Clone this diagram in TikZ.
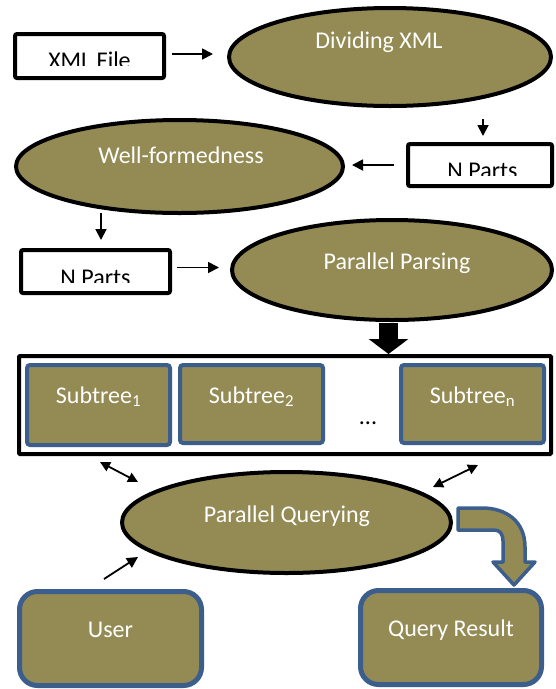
\documentclass[tikz,border=0pt]{standalone}
\usepackage{fontspec}
\setmainfont{Carlito}
\usetikzlibrary{shapes.geometric,arrows.meta}
\definecolor{olivefill}{HTML}{948A54}
\definecolor{oblue}{HTML}{3B5E8C}
\begin{document}
\begin{tikzpicture}[x=1pt,y=-1pt,
  font=\fontsize{24}{28}\selectfont,
  ell/.style={ellipse, draw=black, line width=4pt, fill=olivefill, inner sep=0pt},
  wbox/.style={rectangle, draw=black, line width=4pt, fill=white, rounded corners=2pt, inner sep=0pt},
  sbox/.style={rectangle, draw=oblue, line width=4pt, fill=olivefill, rounded corners=3pt, inner sep=0pt},
  rbox/.style={rectangle, draw=oblue, line width=5pt, fill=olivefill, rounded corners=18pt, inner sep=0pt},
  wtxt/.style={text=white, inner sep=0pt, anchor=base},
  btxt/.style={text=black, inner sep=0pt, anchor=base},
  arr/.style={line width=1.8pt, -{Triangle[length=11pt,width=11pt]}},
  darr/.style={line width=1.8pt, {Triangle[length=10pt,width=10pt]}-{Triangle[length=10pt,width=10pt]}},
  bigarr/.style={line width=19pt, -{Triangle[length=15pt,width=39pt]}},
  bent/.style={draw=oblue, line width=3.5pt, fill=olivefill, line join=round}
]
\useasboundingbox (0,0) rectangle (555,689);

% top row
\node[wbox, minimum width=149pt, minimum height=44pt] (xml) at (89.5,56) {};
\begin{scope}
  \clip (13,32) rectangle (166,65);
  \node[btxt] (xmlt) at (89.5,68) {XML File};
\end{scope}
\node[ell, minimum width=322pt, minimum height=98pt] (div) at (390,57) {};
\node[wtxt] (divt) at (379,48) {Dividing XML};

% second row
\node[wbox, minimum width=144pt, minimum height=42pt] (np1) at (480,165) {};
\begin{scope}
  \clip (406,142) rectangle (554,175);
  \node[btxt] (np1t) at (482.5,178.5) {N Parts};
\end{scope}
\node[ell, minimum width=327pt, minimum height=93pt] (well) at (179.5,166.5) {};
\node[wtxt] (wellt) at (181,163) {Well-formedness};

% third row
\node[wbox, minimum width=149pt, minimum height=43pt] (np2) at (95.5,271.5) {};
\begin{scope}
  \clip (19,248) rectangle (172,282);
  \node[btxt] (np2t) at (95.5,285.5) {N Parts};
\end{scope}
\node[ell, minimum width=320pt, minimum height=100pt] (parse) at (392,270) {};
\node[wtxt] (parset) at (397,269) {Parallel Parsing};

% subtrees container
\node[wbox, rounded corners=1pt, minimum width=532pt, minimum height=98pt] (outer) at (285,405) {};
\node[sbox, minimum width=143pt, minimum height=80pt] (s1) at (98.5,405) {};
\node[wtxt] (s1t) at (98.5,403) {Subtree\textsubscript{1}};
\node[sbox, minimum width=143pt, minimum height=78pt] (s2) at (251.5,404) {};
\node[wtxt] (s2t) at (251.5,403) {Subtree\textsubscript{2}};
\node[sbox, minimum width=143pt, minimum height=78pt] (sn) at (472.5,404) {};
\node[wtxt] (snt) at (472.5,403) {Subtree\textsubscript{n}};
\node[btxt] (dots) at (368,424) {...};

% querying
\node[ell, minimum width=329pt, minimum height=101pt] (query) at (286.5,522.5) {};
\node[wtxt] (queryt) at (287,522) {Parallel Querying};

% bottom boxes
\node[rbox, minimum width=182pt, minimum height=94pt] (user) at (110.5,638.5) {};
\node[wtxt] (usert) at (110.5,637) {User};
\node[rbox, minimum width=181pt, minimum height=94pt] (result) at (451,637.5) {};
\node[wtxt] (resultt) at (451,636) {Query Result};

% connectors
\draw[arr, shorten <=6pt, shorten >=14pt] ([yshift=2pt]xml.east) -- ([yshift=2pt]xml.east -| div.west);
\draw[arr] (np1.north) ++(3,-23) -- ++(0,17);
\draw[arr, shorten <=12pt, shorten >=7pt] (np1.west) -- (np1.west -| well.east);
\draw[arr] (np2.north) ++(5.5,-35) -- ++(0,27);
\draw[arr, shorten <=5pt, shorten >=11pt] ([yshift=4pt]np2.east) -- ([yshift=4pt]np2.east -| parse.west);

\coordinate (bt) at (388.5,354);
\draw[bigarr] ([yshift=-1pt]bt |- parse.south) -- (bt);

\coordinate (d1a) at (100,462);
\coordinate (d1b) at (138,482);
\draw[darr] (d1a) -- (d1b);
\coordinate (d2a) at (478,465);
\coordinate (d2b) at (433,487);
\draw[darr] (d2a) -- (d2b);
\coordinate (ua) at (104,579);
\coordinate (ub) at (138,557);
\draw[arr] (ua) -- (ub);

% bent block arrow
\draw[bent] (458,508) -- (482,508) .. controls (507,508) and (525,522) .. (525,547)
  -- (525,562) -- (535,562) -- (514,585) -- (493,562) -- (503,562) -- (503,541)
  .. controls (503,534) and (500,530) .. (494,530) -- (458,530) -- cycle;
\end{tikzpicture}
\end{document}
